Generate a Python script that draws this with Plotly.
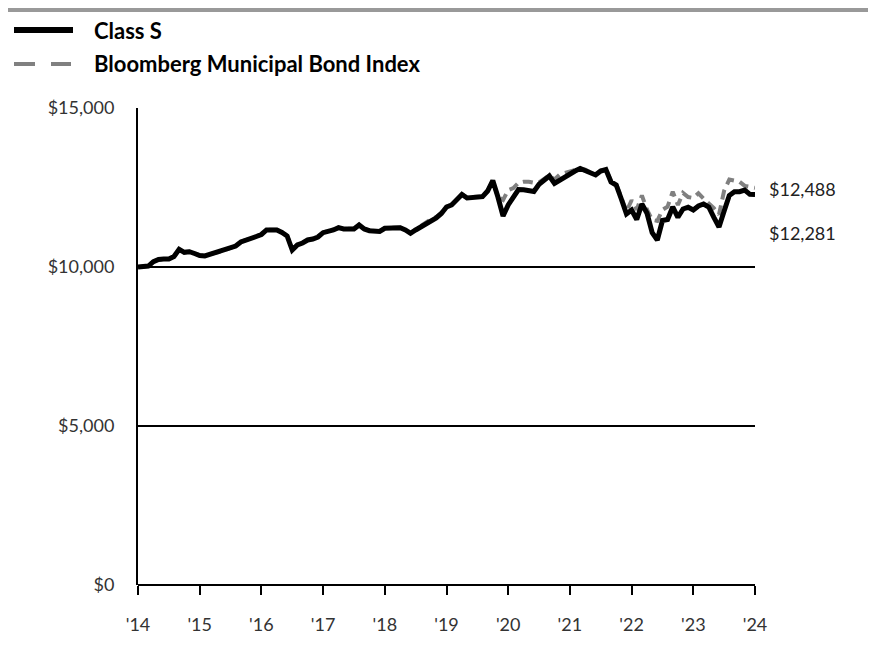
import plotly.graph_objects as go

# monthly growth of $10,000, index 0 = start of '14, 120 = '24
class_s = [10000, 10000, 10030, 10167, 10236, 10252, 10252, 10330, 10557, 10462,
           10481, 10425, 10362, 10346, 10400, 10440, 10472, 10535, 10582, 10660,
           10786, 10834, 10896, 10959, 11022, 11164, 11164, 11164, 11085, 10975,
           10535, 10692, 10755, 10849, 10880, 10943, 11079, 11117, 11164, 11236,
           11195, 11195, 11195, 11321, 11195, 11142, 11142, 11117, 11217, 11227,
           11236, 11236, 11164, 11060, 11164, 11258, 11368, 11478, 11541, 11683,
           11887, 11950, 12091, 12280, 12170, 12180, 12195, 12211, 12390, 12720,
           12201, 11604, 11950, 12233, 12437, 12431, 12406, 12374, 12601, 12736,
           12862, 12626, 12736, 12830, 12940, 13019, 13098, 13035, 12940, 12893,
           13019, 13066, 12673, 12579, 12139, 11667, 11792, 11494, 11981, 11689,
           11079, 10849, 11462, 11494, 11887, 11563, 11824, 11877, 11792, 11918,
           11981, 11887, 11563, 11258, 11761, 12249, 12368, 12368, 12421, 12286,
           12281]

bloomberg = [10000, 10000, 10030, 10167, 10236, 10252, 10252, 10330, 10540, 10470,
             10490, 10430, 10370, 10350, 10405, 10445, 10480, 10540, 10590, 10665,
             10790, 10840, 10900, 10965, 11030, 11170, 11170, 11170, 11090, 10985,
             10560, 10700, 10760, 10855, 10890, 10950, 11085, 11125, 11170, 11240,
             11200, 11200, 11200, 11320, 11200, 11150, 11150, 11125, 11225, 11235,
             11245, 11245, 11175, 11075, 11180, 11280, 11400, 11510, 11570, 11700,
             11900, 11965, 12105, 12290, 12185, 12195, 12210, 12225, 12400, 12700,
             12200, 12107, 12420, 12480, 12650, 12683, 12683, 12650, 12660, 12760,
             12880, 12750, 12900, 12960, 13000, 13030, 13100, 13060, 12970, 12920,
             13040, 13080, 12700, 12620, 12200, 11750, 12100, 11800, 12250, 11800,
             11480, 11450, 11800, 11900, 12370, 11950, 12330, 12200, 12170, 12317,
             12150, 12000, 11850, 11650, 12400, 12750, 12720, 12680, 12550, 12520,
             12488]

months = list(range(len(class_s)))
tick_pos = list(range(0, 121, 12))
tick_labels = ["'14", "'15", "'16", "'17", "'18", "'19", "'20", "'21", "'22", "'23", "'24"]
y_ticks = [0, 5000, 10000, 15000]

# the page body has an 8px margin, so everything is placed 8px up/left
OFF = 8
L, R, T, B = 138 - OFF, 755 - OFF, 108 - OFF, 585 - OFF
W, H = 876 - 2 * OFF, 672 - 2 * OFF


def px(x):
    return (x - OFF - L) / (R - L)


def py(y):
    return (B - (y - OFF)) / (B - T)


fig = go.Figure()

fig.add_trace(go.Scatter(x=months, y=bloomberg, mode='lines', name='Bloomberg Municipal Bond Index',
                         line=dict(color='#808080', width=4, dash='10px,6px'), showlegend=False))
fig.add_trace(go.Scatter(x=months, y=class_s, mode='lines', name='Class S',
                         line=dict(color='black', width=5), showlegend=False))

fig.update_xaxes(range=[0, 120], tickvals=tick_pos, ticktext=tick_labels,
                 showgrid=False, zeroline=False, showline=False,
                 ticks='outside', ticklen=9, tickwidth=2, tickcolor='black',
                 ticklabelstandoff=14,
                 tickfont=dict(family='Lato', size=18, color='#333333'))
fig.update_yaxes(range=[0, 15000], tickvals=y_ticks,
                 ticktext=['$0', '$5,000', '$10,000', '$15,000'],
                 showgrid=True, gridcolor='black', gridwidth=2, zeroline=False,
                 showline=True, linecolor='black', linewidth=2,
                 ticks='', ticklabelstandoff=18,
                 tickfont=dict(family='Lato', size=18, color='#333333'))

shapes = [
    # top rule
    dict(type='line', xref='paper', yref='paper', x0=px(0), x1=px(876), y0=py(10), y1=py(10),
         line=dict(color='#999999', width=4)),
    # x axis baseline
    dict(type='line', xref='paper', yref='paper', x0=0, x1=1, y0=0, y1=0,
         line=dict(color='black', width=2)),
    # legend samples
    dict(type='line', xref='paper', yref='paper', x0=px(14), x1=px(73), y0=py(30), y1=py(30),
         line=dict(color='black', width=6)),
    dict(type='line', xref='paper', yref='paper', x0=px(14), x1=px(35), y0=py(64), y1=py(64),
         line=dict(color='#808080', width=4)),
    dict(type='line', xref='paper', yref='paper', x0=px(51), x1=px(71), y0=py(64), y1=py(64),
         line=dict(color='#808080', width=4)),
]

annotations = [
    dict(text='<b>Class S</b>', x=px(92), y=py(30), xanchor='left', yanchor='middle'),
    dict(text='<b>Bloomberg Municipal Bond Index</b>', x=px(92), y=py(64), xanchor='left', yanchor='middle'),
]
for a in annotations:
    a.update(xref='paper', yref='paper', showarrow=False,
             font=dict(family='Lato', size=22, color='black'))

annotations += [
    dict(text='$12,488', x=px(767), y=py(189), xref='paper', yref='paper', xanchor='left',
         yanchor='middle', showarrow=False, font=dict(family='Lato', size=18, color='#222222')),
    dict(text='$12,281', x=px(767), y=py(233), xref='paper', yref='paper', xanchor='left',
         yanchor='middle', showarrow=False, font=dict(family='Lato', size=18, color='#222222')),
]

fig.update_layout(width=W, height=H, margin=dict(l=L, r=W - R, t=T, b=H - B),
                  plot_bgcolor='white', paper_bgcolor='white',
                  shapes=shapes, annotations=annotations, showlegend=False)

fig.write_html("out.html")
